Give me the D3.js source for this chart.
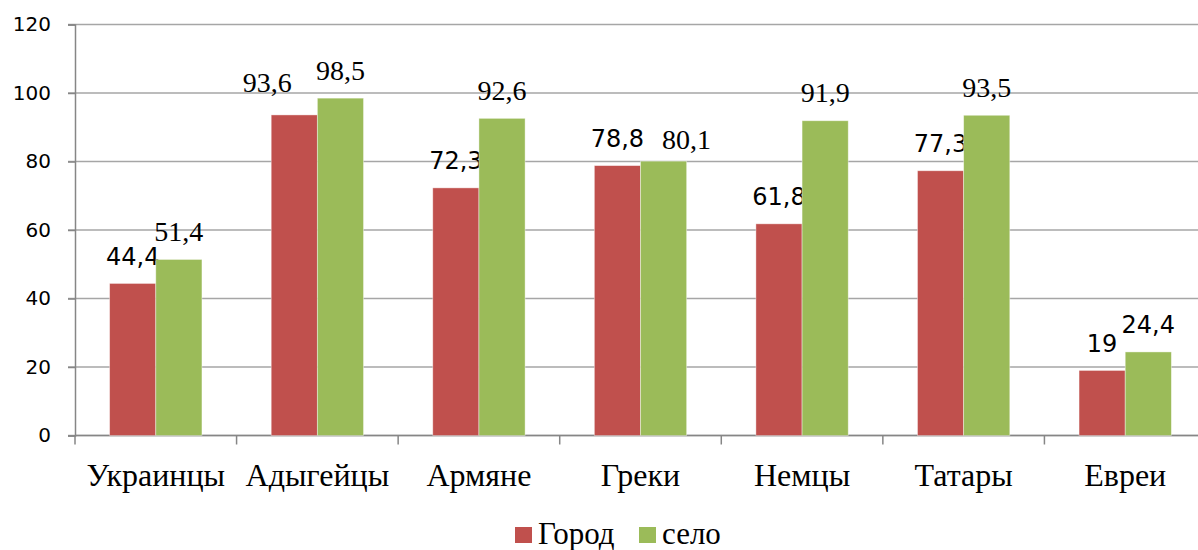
<!DOCTYPE html>
<html><head><meta charset="utf-8">
<script src="https://cdn.jsdelivr.net/npm/d3@7"></script>
<style>
html,body{margin:0;padding:0;background:#fff;}
svg{display:block;}
</style></head>
<body>
<svg id="chart" width="1198" height="550"></svg>
<script>
// ---- data ----
const categories = ["Украинцы","Адыгейцы","Армяне","Греки","Немцы","Татары","Евреи"];
const seriesNames = ["Город","село"];
const gorod = [44.4, 93.6, 72.3, 78.8, 61.8, 77.3, 19];
const selo  = [51.4, 98.5, 92.6, 80.1, 91.9, 93.5, 24.4];
const labelsGorod = ["44,4","93,6","72,3","78,8","61,8","77,3","19"];
const labelsSelo  = ["51,4","98,5","92,6","80,1","91,9","93,5","24,4"];
const yTicks = [0,20,40,60,80,100,120];

// ---- presentation ----
const colors = ["#C0504D","#9BBB59"];
const serifIdx = {"Город":[1], "село":[0,1,2,3,4,5]};
const nudge = {"Город":{1:[-27,-4]}, "село":{3:[23,6]}};
const SANS = "'DejaVu Sans', sans-serif";
const SERIF = "'Liberation Serif', 'Times New Roman', serif";

const svg = d3.select("#chart");
const x = d3.scaleBand().domain(categories).range([75, 1206]).padding(0);
const y = d3.scaleLinear().domain([0,120]).range([435.5, 24.5]);
const bw = x.step()/3.5;

// gridlines
svg.append("g").selectAll("line").data(yTicks).join("line")
  .attr("x1", 68).attr("x2", 1206)
  .attr("y1", d=>y(d)).attr("y2", d=>y(d))
  .attr("stroke", "#a6a6a6").attr("stroke-width", 1.5);

// y axis
const yAxis = svg.append("g").attr("transform","translate(75,0)")
  .call(d3.axisLeft(y).tickValues(yTicks).tickSize(7).tickPadding(17).tickFormat(d3.format("d")));
yAxis.select(".domain").attr("stroke","#868686").attr("stroke-width",1.5);
yAxis.selectAll(".tick line").attr("stroke","#868686").attr("stroke-width",1.5);
yAxis.selectAll("text").attr("font-family",SANS).attr("font-size","20px").attr("fill","#000");

// x axis (ticks at band boundaries)
const xAxisG = svg.append("g");
xAxisG.append("line").attr("x1",75).attr("x2",1206).attr("y1",y(0)).attr("y2",y(0))
  .attr("stroke","#868686").attr("stroke-width",1.5);
const bounds = categories.map(c=>x(c)).concat([x(categories[categories.length-1])+x.step()]);
xAxisG.selectAll("line.t").data(bounds).join("line").attr("class","t")
  .attr("x1",d=>d).attr("x2",d=>d).attr("y1",y(0)).attr("y2",y(0)+9)
  .attr("stroke","#868686").attr("stroke-width",1.5);
xAxisG.selectAll("text").data(categories).join("text")
  .attr("x", d=>x(d)+x.step()/2).attr("y", 486)
  .attr("text-anchor","middle").attr("font-family",SERIF).attr("font-size","32px").attr("fill","#000")
  .text(d=>d);

// bars
const series = [gorod, selo];
const labels = [labelsGorod, labelsSelo];
series.forEach((vals, si) => {
  const name = seriesNames[si];
  const g = svg.append("g");
  g.selectAll("rect").data(vals).join("rect")
    .attr("x", (d,i)=>x(categories[i]) + x.step()/2 - bw + si*bw)
    .attr("y", d=>y(d))
    .attr("width", bw)
    .attr("height", d=>y(0)-y(d))
    .attr("fill", colors[si])
    .attr("stroke","#ffffff").attr("stroke-opacity",0.5).attr("stroke-width",0.8);
  g.selectAll("text").data(vals).join("text")
    .attr("x", (d,i)=>x(categories[i]) + x.step()/2 - bw + si*bw + bw/2 + ((nudge[name][i]||[0,0])[0]))
    .attr("y", (d,i)=>y(d) - 18.5 + ((nudge[name][i]||[0,0])[1]))
    .attr("text-anchor","middle")
    .attr("font-family",(d,i)=>serifIdx[name].includes(i)?SERIF:SANS)
    .attr("font-size",(d,i)=>serifIdx[name].includes(i)?"28px":"24px")
    .attr("fill","#000")
    .text((d,i)=>labels[si][i]);
});

// legend
const legend = svg.append("g");
const legX = [515, 639];
seriesNames.forEach((n,i)=>{
  legend.append("rect").attr("x",legX[i]).attr("y",527).attr("width",17).attr("height",16).attr("fill",colors[i]);
  legend.append("text").attr("x",legX[i]+23).attr("y",544)
    .attr("font-family",SERIF).attr("font-size","31px").attr("fill","#000").text(n);
});
</script>
</body></html>
